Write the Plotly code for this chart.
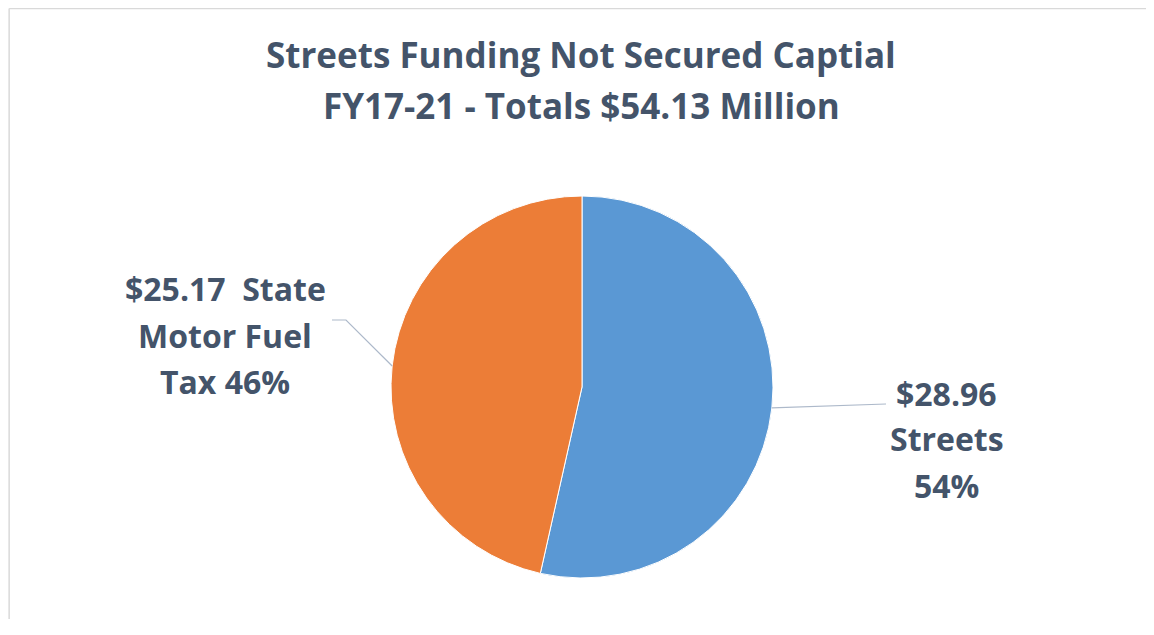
import math
import plotly.graph_objects as go

# ---- data ----
categories = ["Streets", "State Motor Fuel Tax"]
values = [28.96, 25.17]          # $ millions
percents = [54, 46]
colors = ["#5A98D4", "#EC7D37"]
title_lines = ["Streets Funding Not Secured Captial", "FY17-21 - Totals $54.13 Million"]
label_lines = [
    ["$28.96", "Streets", "54%"],
    ["$25.17\u00a0 State", "Motor Fuel", "Tax 46%"],
]

# page body has an 8px margin; keep the figure inside the window
OFF = 8
W, H = 1154 - OFF, 635 - 2 * OFF - 8
TXT = "#44546A"
FONT = "Open Sans"

def px(x):   # reference-screen x -> paper
    return (x - OFF) / W

def py(y):   # reference-screen y -> paper
    return 1 - (y - OFF) / H

# pie geometry (reference pixels)
cx, cy, r = 582, 387, 191

fig = go.Figure()
fig.add_trace(go.Pie(
    labels=categories,
    values=values,
    marker=dict(colors=colors, line=dict(color="white", width=1)),
    sort=False,
    direction="clockwise",
    rotation=0,
    textinfo="none",
    hoverinfo="label+value+percent",
    showlegend=False,
    domain=dict(x=[px(cx - r), px(cx + r)], y=[py(cy + r), py(cy - r)]),
))

annotations = []
# title
for i, line in enumerate(title_lines):
    annotations.append(dict(
        text=line, x=px(581), y=py(55 + 50 * i), xref="paper", yref="paper",
        xanchor="center", yanchor="middle", showarrow=False,
        font=dict(family=FONT, size=35, color=TXT, weight="bold"),
    ))

# slice labels
label_pos = [(947, [393, 439, 485]), (225, [288, 335, 381])]
for lines, (lx, lys) in zip(label_lines, label_pos):
    for line, ly in zip(lines, lys):
        annotations.append(dict(
            text=line, x=px(lx), y=py(ly), xref="paper", yref="paper",
            xanchor="center", yanchor="middle", showarrow=False,
            font=dict(family=FONT, size=32, color=TXT, weight="bold"),
        ))

# leader lines from mid-angle of each slice
total = sum(values)
cum = 0.0
edge_pts = []
for v in values:
    mid = (cum + v / 2) / total * 2 * math.pi
    edge_pts.append((cx + r * math.sin(mid), cy - r * math.cos(mid)))
    cum += v

shapes = []
LC = "#ADB9CA"
ex, ey = edge_pts[0]
shapes.append(dict(type="line", xref="paper", yref="paper",
                   x0=px(ex), y0=py(ey), x1=px(886), y1=py(404),
                   line=dict(color=LC, width=1.2)))
ex, ey = edge_pts[1]
shapes.append(dict(type="path", xref="paper", yref="paper",
                   path=f"M {px(332)},{py(320)} L {px(346)},{py(320)} L {px(ex)},{py(ey)}",
                   line=dict(color=LC, width=1.2)))
# chart frame (only top and left edges are visible)
FC = "#D9D9D9"
shapes.append(dict(type="line", xref="paper", yref="paper",
                   x0=0.001, y0=0.999, x1=1.0, y1=0.999, line=dict(color=FC, width=1.5)))
shapes.append(dict(type="line", xref="paper", yref="paper",
                   x0=0.001, y0=0.0, x1=0.001, y1=0.999, line=dict(color=FC, width=1.5)))

fig.update_layout(
    width=W, height=H,
    margin=dict(l=0, r=0, t=0, b=0),
    paper_bgcolor="white", plot_bgcolor="white",
    annotations=annotations,
    shapes=shapes,
)

fig.write_html("out.html")
